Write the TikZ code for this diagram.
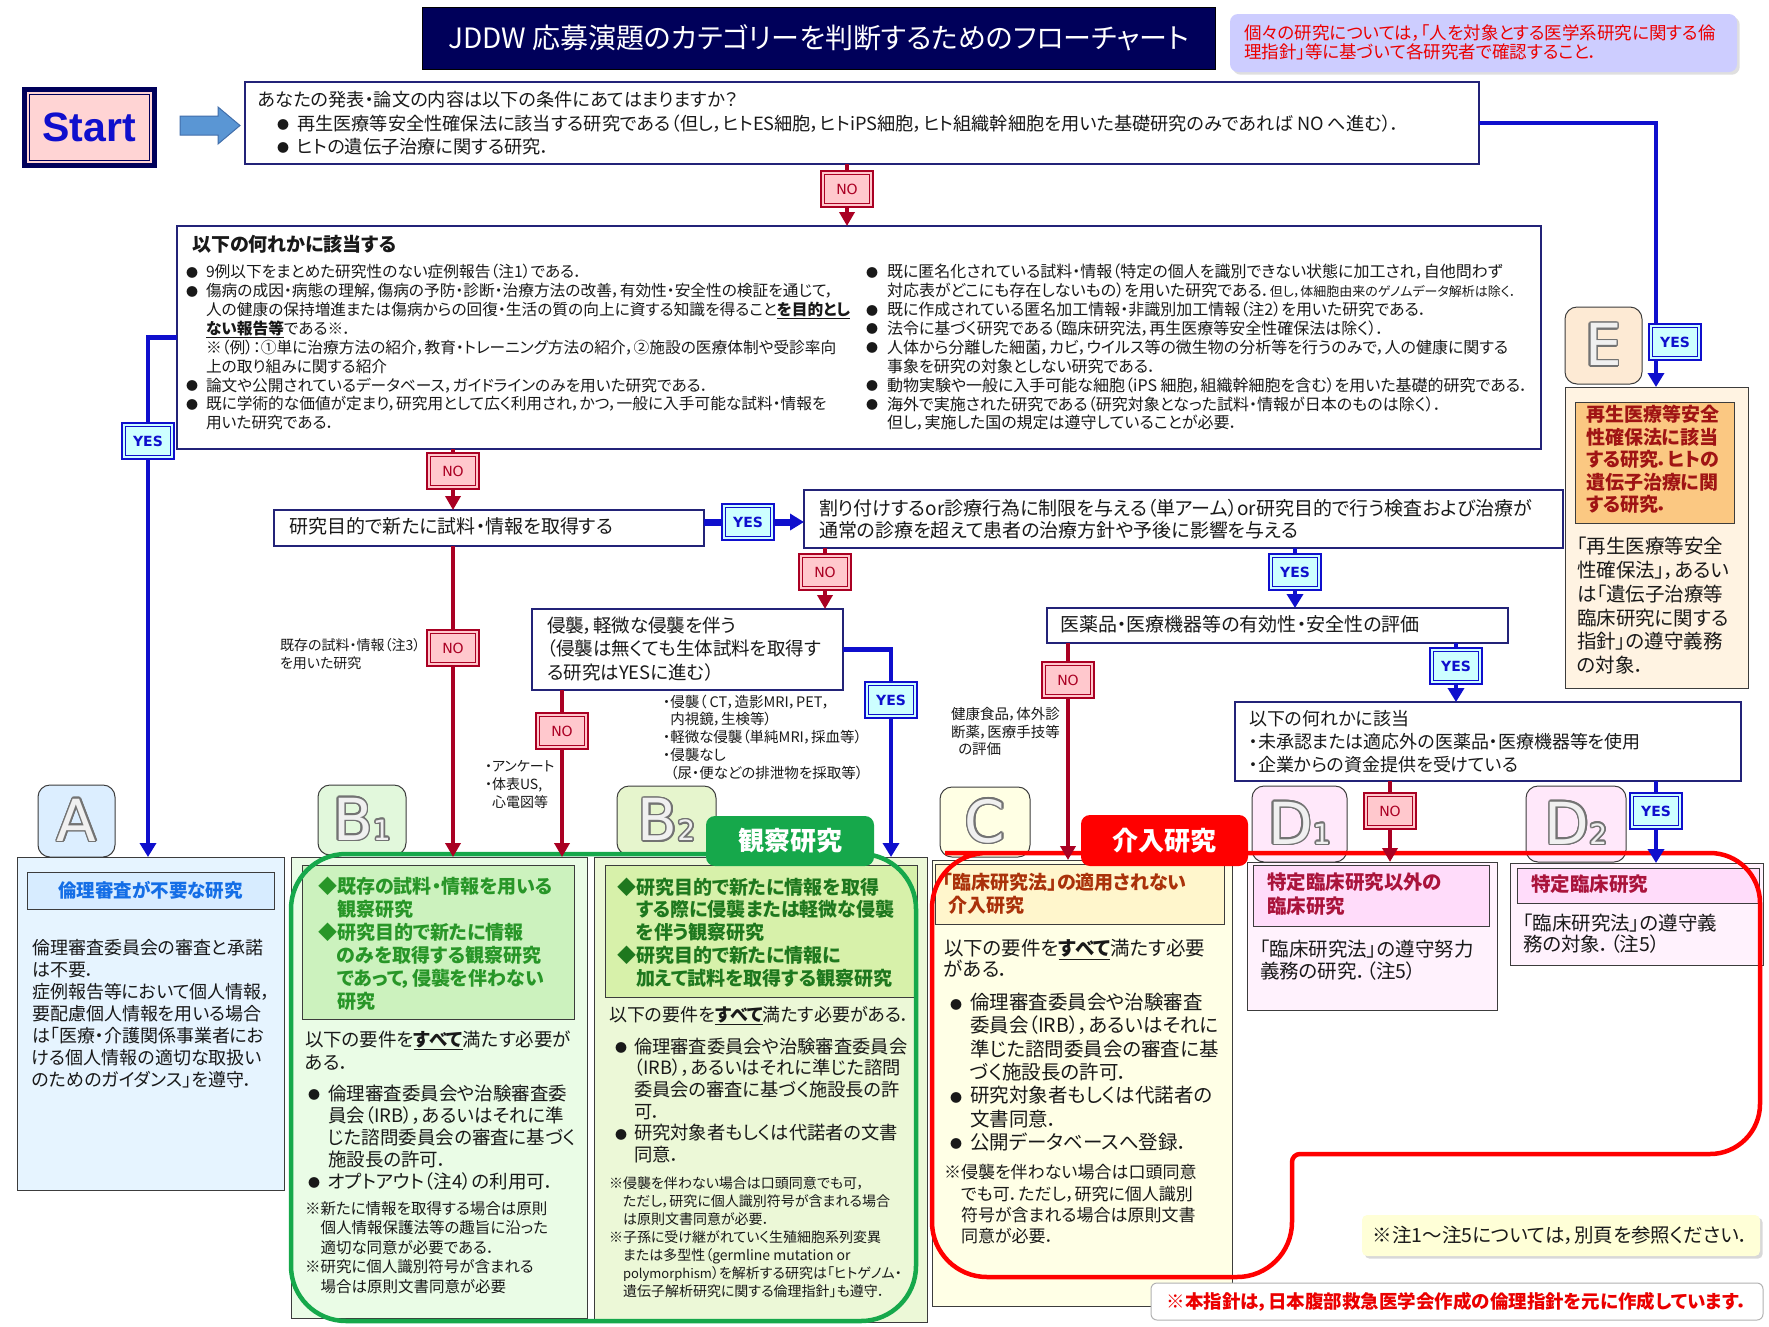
\documentclass[tikz,border=0pt]{standalone}
\usepackage{fontspec}
\setmainfont{Noto Sans CJK JP}[RawFeature=+palt]
\newfontfamily\latf{Liberation Sans}
\newfontfamily\dejaf{DejaVu Sans}
\usepackage{contour}
\contourlength{1.6pt}
\usetikzlibrary{arrows.meta,shadows}
\definecolor{nred}{RGB}{170,0,35}
\definecolor{npink}{RGB}{255,200,205}
\definecolor{nblue}{RGB}{15,15,205}
\definecolor{ycyan}{RGB}{205,255,255}
\definecolor{qnavy}{RGB}{35,35,120}
\definecolor{textc}{RGB}{25,25,25}
\definecolor{catline}{RGB}{60,60,60}
\definecolor{tnavy}{RGB}{0,0,90}
\definecolor{lav}{RGB}{205,205,255}
\definecolor{nred2}{RGB}{235,0,0}
\definecolor{startpink}{RGB}{255,212,212}
\definecolor{arrowfill}{RGB}{90,150,212}
\definecolor{arrowline}{RGB}{65,110,170}
\definecolor{kgreen}{RGB}{22,168,75}
\definecolor{kred}{RGB}{255,0,0}
\definecolor{fA}{RGB}{230,244,255}\definecolor{hA}{RGB}{215,236,255}\definecolor{tA}{RGB}{220,238,255}
\definecolor{fB1}{RGB}{234,252,230}\definecolor{hB1}{RGB}{204,242,190}\definecolor{tB1}{RGB}{226,248,220}
\definecolor{fB2}{RGB}{236,248,215}\definecolor{hB2}{RGB}{215,241,170}\definecolor{tB2}{RGB}{230,245,205}
\definecolor{fC}{RGB}{255,255,230}\definecolor{hC}{RGB}{255,246,204}\definecolor{tC}{RGB}{255,255,228}
\definecolor{fD}{RGB}{255,242,253}\definecolor{hD}{RGB}{255,220,250}\definecolor{tD}{RGB}{255,232,250}
\definecolor{fE}{RGB}{255,243,226}\definecolor{hE}{RGB}{251,200,130}\definecolor{tE}{RGB}{253,234,212}
\definecolor{cA}{RGB}{20,110,230}
\definecolor{cB1}{RGB}{40,150,40}
\definecolor{cB2}{RGB}{30,120,30}
\definecolor{cC}{RGB}{170,50,10}
\definecolor{cD}{RGB}{170,20,60}
\definecolor{cE}{RGB}{160,20,20}
\definecolor{noteY}{RGB}{255,255,215}
\newcommand\fs[2]{\fontsize{#1}{#2}\selectfont}
\newcommand\bul[1]{\makebox[#1pt][l]{\raisebox{0.5pt}{\fontsize{12}{12}\selectfont ●}}}
\newcommand\tabletter[2]{\contour{black!55}{\textcolor{black!6}{#1\fs{28}{28}#2}}}
\begin{document}
\begin{tikzpicture}[x=1pt,y=-1pt,
 every node/.style={inner sep=0pt, outer sep=0pt},
 txt/.style={anchor=north west, align=left, text=textc},
 qbox/.style={draw=qnavy, line width=1.3pt, fill=white, anchor=north west},
 catbox/.style={draw=catline, line width=1pt, anchor=north west},
 tabbox/.style={draw=catline, line width=1pt, rounded corners=12pt, anchor=north west},
 nolab/.style={draw=nred, line width=2.6pt, fill=npink, minimum width=52pt, minimum height=36pt, text=nred, font=\dejaf\fs{14}{14},
   path picture={\draw[nred, line width=0.8pt] ([shift={(3.4pt,-3.4pt)}]path picture bounding box.north west) rectangle ([shift={(-3.4pt,3.4pt)}]path picture bounding box.south east);}},
 yeslab/.style={draw=nblue, line width=2.6pt, fill=ycyan, minimum width=52pt, minimum height=36pt, text=nblue, font=\dejaf\bfseries\fs{14}{14},
   path picture={\draw[nblue, line width=0.8pt] ([shift={(3.4pt,-3.4pt)}]path picture bounding box.north west) rectangle ([shift={(-3.4pt,3.4pt)}]path picture bounding box.south east);}},
 rline/.style={draw=nred, line width=3.5pt},
 rarr/.style={rline, -{Triangle[length=14pt,width=15pt]}},
 bline/.style={draw=nblue, line width=4.5pt},
 barr/.style={bline, -{Triangle[length=14pt,width=16pt]}},
 lettxt/.style={font=\dejaf\fs{58}{58}},
]
\useasboundingbox (0,0) rectangle (1769,1326);
\fill[white] (0,0) rectangle (1769,1326);

% ---------- header ----------
\node[anchor=north west, fill=tnavy, draw=black, line width=1pt, minimum width=793pt, minimum height=62pt] (title) at (422,7) {};
\node[text=white, font=\fs{28}{28}] (titletxt) at (title) {JDDW 応募演題のカテゴリーを判断するためのフローチャート};
\node[anchor=north west, fill=lav, rounded corners=8pt, minimum width=507pt, minimum height=58pt, drop shadow={opacity=0.25}] (note) at (1230,14) {};
\node[txt, text=nred2, font=\fs{17.5}{19}] (notetxt) at (1244,24.25) {個々の研究については，「人を対象とする医学系研究に関する倫\\理指針」等に基づいて各研究者で確認すること．};

\node[anchor=north west, fill=startpink, draw=tnavy, line width=5pt, minimum width=130pt, minimum height=76pt,
  path picture={\draw[tnavy, line width=1pt] ([shift={(5pt,-5pt)}]path picture bounding box.north west) rectangle ([shift={(-5pt,5pt)}]path picture bounding box.south east);}] (start) at (24,89) {};
\node[text=nblue, font=\latf\bfseries\fs{41}{41}] (starttxt) at (start) {Start};
\draw[fill=arrowfill, draw=arrowline, line width=1pt] (180,116) -- (218,116) -- (218,107) -- (240,125.5) -- (218,144) -- (218,135) -- (180,135) -- cycle;

\node[qbox, minimum width=1234pt, minimum height=82pt] (top) at (245,82) {};
\node[txt, font=\fs{18.2}{23.5}] (topt) at (258,90.9) {あなたの発表・論文の内容は以下の条件にあてはまりますか？};
\node[txt, font=\fs{18.2}{23}] (topb) at (277,114.9) {\bul{20}再生医療等安全性確保法に該当する研究である（但し，ヒトES細胞，ヒトiPS細胞，ヒト組織幹細胞を用いた基礎研究のみであれば NO へ進む）．\\\bul{20}ヒトの遺伝子治療に関する研究．};

% ---------- big box ----------
\node[draw=qnavy, line width=1.5pt, fill=white, anchor=north west, minimum width=1364pt, minimum height=223pt] (big) at (177,226) {};
\node[txt, font=\bfseries\fs{19}{19}] (bigt) at (192,235.5) {以下の何れかに該当する};
\node[txt, font=\fs{15.7}{18.9}] (bigL) at (186,264.2) {\bul{20}9例以下をまとめた研究性のない症例報告（注1）である．\\\bul{20}傷病の成因・病態の理解，傷病の予防・診断・治療方法の改善，有効性・安全性の検証を通じて，\\\hspace*{20pt}人の健康の保持増進または傷病からの回復・生活の質の向上に資する知識を得ること\underline{\bfseries を目的とし}\\\hspace*{20pt}\underline{\bfseries ない報告等}である※．\\\hspace*{20pt}※（例）：①単に治療方法の紹介，教育・トレーニング方法の紹介，②施設の医療体制や受診率向\\\hspace*{20pt}上の取り組みに関する紹介\\\bul{20}論文や公開されているデータベース，ガイドラインのみを用いた研究である．\\\bul{20}既に学術的な価値が定まり，研究用として広く利用され，かつ，一般に入手可能な試料・情報を\\\hspace*{20pt}用いた研究である．};
\node[txt, font=\fs{16}{18.9}] (bigR) at (866,264) {\bul{21}既に匿名化されている試料・情報（特定の個人を識別できない状態に加工され，自他問わず\\\hspace*{21pt}対応表がどこにも存在しないもの）を用いた研究である．{\fs{13}{18.9}但し，体細胞由来のゲノムデータ解析は除く．}\\\bul{21}既に作成されている匿名加工情報・非識別加工情報（注2）を用いた研究である．\\\bul{21}法令に基づく研究である（臨床研究法，再生医療等安全性確保法は除く）．\\\bul{21}人体から分離した細菌，カビ，ウイルス等の微生物の分析等を行うのみで，人の健康に関する\\\hspace*{21pt}事象を研究の対象としない研究である．\\\bul{21}動物実験や一般に入手可能な細胞（iPS 細胞，組織幹細胞を含む）を用いた基礎的研究である．\\\bul{21}海外で実施された研究である（研究対象となった試料・情報が日本のものは除く）．\\\hspace*{21pt}但し，実施した国の規定は遵守していることが必要．};

% ---------- question boxes ----------
\node[qbox, minimum width=430pt, minimum height=36pt] (q2) at (274,510) {};
\node[txt, font=\fs{19}{22}] (q2t) at (289,517.5) {研究目的で新たに試料・情報を取得する};
\node[qbox, minimum width=759pt, minimum height=58pt] (q3) at (804,490) {};
\node[txt, font=\fs{19}{22}] (q3t) at (819,499.5) {割り付けするor診療行為に制限を与える（単アーム）or研究目的で行う検査および治療が\\通常の診療を超えて患者の治療方針や予後に影響を与える};
\node[qbox, minimum width=311pt, minimum height=81pt] (q4) at (532,609) {};
\node[txt, font=\fs{18.5}{23.5}] (q4t) at (547,616.75) {侵襲，軽微な侵襲を伴う\\（侵襲は無くても生体試料を取得す\\る研究はYESに進む）};
\node[qbox, minimum width=461pt, minimum height=35pt] (q5) at (1047,608) {};
\node[txt, font=\fs{19}{22}] (q5t) at (1060,615.5) {医薬品・医療機器等の有効性・安全性の評価};
\node[qbox, minimum width=506pt, minimum height=79pt] (q6) at (1235,702) {};
\node[txt, font=\fs{18}{23}] (q6t) at (1249,710) {以下の何れかに該当\\・未承認または適応外の医薬品・医療機器等を使用\\・企業からの資金提供を受けている};

% small labels
\node[txt, font=\fs{14}{18}] (lbl1) at (280,639) {既存の試料・情報（注3）\\を用いた研究};
\node[txt, font=\fs{14}{18}] (lbl2) at (485,760) {・アンケート\\・体表US,\\\phantom{・}心電図等};
\node[txt, font=\fs{14.5}{17.75}] (lbl3) at (663,694.75) {・侵襲（ CT，造影MRI，PET，\\\phantom{・}内視鏡，生検等）\\・軽微な侵襲（単純MRI，採血等）\\・侵襲なし\\\phantom{・}（尿・便などの排泄物を採取等）};
\node[txt, font=\fs{14.5}{17.5}] (lbl4) at (951,707.75) {健康食品，体外診\\断薬，医療手技等\\\phantom{・}の評価};

% ---------- letter tabs ----------
\node[tabbox, fill=tA, minimum width=77pt, minimum height=72pt] (tabA) at (38,785) {};
\node[tabbox, fill=tB1, minimum width=88pt, minimum height=70pt] (tabB1) at (318,785) {};
\node[tabbox, fill=tB2, minimum width=99pt, minimum height=69pt] (tabB2) at (617,786) {};
\node[tabbox, fill=tC, minimum width=90pt, minimum height=70pt] (tabC) at (940,787) {};
\node[tabbox, fill=tD, minimum width=95pt, minimum height=76pt] (tabD1) at (1252,786) {};
\node[tabbox, fill=tD, minimum width=100pt, minimum height=76pt] (tabD2) at (1526,786) {};
\node[tabbox, fill=tE, minimum width=77pt, minimum height=77pt] (tabE) at (1565,307) {};
\node[lettxt] (letA) at (tabA) {\tabletter{A}{}};
\node[lettxt] (letB1) at (tabB1) {\tabletter{B}{1}};
\node[lettxt] (letB2) at (tabB2) {\tabletter{B}{2}};
\node[lettxt] (letC) at (tabC) {\tabletter{C}{}};
\node[lettxt] (letD1) at (tabD1) {\tabletter{D}{1}};
\node[lettxt] (letD2) at (tabD2) {\tabletter{D}{2}};
\node[lettxt] (letE) at (tabE) {\tabletter{E}{}};

% ---------- category boxes ----------
\node[catbox, fill=fA, minimum width=267pt, minimum height=333pt] (boxA) at (17,857) {};
\node[catbox, fill=hA, minimum width=247pt, minimum height=37pt] (hdrA) at (27,872) {};
\node[text=cA, font=\bfseries\fs{18.5}{18.5}] (hAt) at (hdrA) {倫理審査が不要な研究};
\node[txt, font=\fs{18}{22}] (bAt) at (32,939) {倫理審査委員会の審査と承諾\\は不要．\\症例報告等において個人情報，\\要配慮個人情報を用いる場合\\は「医療・介護関係事業者にお\\ける個人情報の適切な取扱い\\のためのガイダンス」を遵守．};

\node[catbox, fill=fB1, minimum width=296pt, minimum height=461pt] (boxB1) at (291,857) {};
\node[catbox, fill=hB1, minimum width=272pt, minimum height=154pt] (hdrB1) at (302,865) {};
\node[txt, text=cB1, font=\bfseries\fs{19}{23}] (hB1t) at (318,876.5) {◆既存の試料・情報を用いる\\\phantom{◆}観察研究\\◆研究目的で新たに情報\\\phantom{◆}のみを取得する観察研究\\\phantom{◆}であって，侵襲を伴わない\\\phantom{◆}研究};
\node[txt, font=\fs{18.5}{23}] (bB1a) at (305,1030.75) {以下の要件を\underline{\bfseries すべて}満たす必要が\\ある．};
\node[txt, font=\fs{18.5}{22}] (bB1b) at (308,1084.75) {\bul{20}倫理審査委員会や治験審査委\\\hspace*{20pt}員会（IRB），あるいはそれに準\\\hspace*{20pt}じた諮問委員会の審査に基づく\\\hspace*{20pt}施設長の許可．\\\bul{20}オプトアウト（注4）の利用可．};
\node[txt, font=\fs{15.5}{19.5}] (bB1c) at (305,1201.25) {※新たに情報を取得する場合は原則\\\phantom{※}個人情報保護法等の趣旨に沿った\\\phantom{※}適切な同意が必要である．\\※研究に個人識別符号が含まれる\\\phantom{※}場合は原則文書同意が必要};

\node[catbox, fill=fB2, minimum width=333pt, minimum height=465pt] (boxB2) at (594,857) {};
\node[catbox, fill=hB2, minimum width=312pt, minimum height=132pt] (hdrB2) at (605,865) {};
\node[txt, text=cB2, font=\bfseries\fs{19}{22.75}] (hB2t) at (617,877.5) {◆研究目的で新たに情報を取得\\\phantom{◆}する際に侵襲または軽微な侵襲\\\phantom{◆}を伴う観察研究\\◆研究目的で新たに情報に\\\phantom{◆}加えて試料を取得する観察研究};
\node[txt, font=\fs{18}{22}] (bB2a) at (609,1006) {以下の要件を\underline{\bfseries すべて}満たす必要がある．};
\node[txt, font=\fs{18.3}{21.6}] (bB2b) at (615,1037.85) {\bul{19}倫理審査委員会や治験審査委員会\\\hspace*{19pt}（IRB），あるいはそれに準じた諮問\\\hspace*{19pt}委員会の審査に基づく施設長の許\\\hspace*{19pt}可．\\\bul{19}研究対象者もしくは代諾者の文書\\\hspace*{19pt}同意．};
\node[txt, font=\fs{14}{18}] (bB2c) at (609,1177) {※侵襲を伴わない場合は口頭同意でも可，\\\phantom{※}ただし，研究に個人識別符号が含まれる場合\\\phantom{※}は原則文書同意が必要．\\※子孫に受け継がれていく生殖細胞系列変異\\\phantom{※}または多型性（germline mutation or\\\phantom{※}{\fs{13}{18}polymorphism}）を解析する研究は「ヒトゲノム・\\\phantom{※}遺伝子解析研究に関する倫理指針」も遵守．};

\node[catbox, fill=fC, minimum width=300pt, minimum height=446pt] (boxC) at (932,860) {};
\node[catbox, fill=hC, minimum width=289pt, minimum height=60pt] (hdrC) at (935,864) {};
\node[txt, text=cC, font=\bfseries\fs{19}{23}] (hCt) at (943,873.5) {「臨床研究法」の適用されない\\\hspace*{5pt}介入研究};
\node[txt, font=\fs{19.5}{21}] (bCa) at (944,939.25) {以下の要件を\underline{\bfseries すべて}満たす必要\\がある．};
\node[txt, font=\fs{19.5}{23.3}] (bCb) at (950,993.25) {\bul{20}倫理審査委員会や治験審査\\\hspace*{20pt}委員会（IRB），あるいはそれに\\\hspace*{20pt}準じた諮問委員会の審査に基\\\hspace*{20pt}づく施設長の許可．\\\bul{20}研究対象者もしくは代諾者の\\\hspace*{20pt}文書同意．\\\bul{20}公開データベースへ登録．};
\node[txt, font=\fs{17}{21.3}] (bCc) at (944,1164.5) {※侵襲を伴わない場合は口頭同意\\\phantom{※}でも可．ただし，研究に個人識別\\\phantom{※}符号が含まれる場合は原則文書\\\phantom{※}同意が必要．};

\node[catbox, fill=fD, minimum width=250pt, minimum height=148pt] (boxD1) at (1247,862) {};
\node[catbox, fill=hD, minimum width=236pt, minimum height=61pt] (hdrD1) at (1253,865) {};
\node[txt, text=cD, font=\bfseries\fs{19.5}{24}] (hD1t) at (1267,873.25) {特定臨床研究以外の\\臨床研究};
\node[txt, font=\fs{19.5}{22}] (bD1) at (1260,940.25) {「臨床研究法」の遵守努力\\義務の研究．（注5）};

\node[catbox, fill=fD, minimum width=253pt, minimum height=102pt] (boxD2) at (1510,863) {};
\node[catbox, fill=hD, minimum width=242pt, minimum height=35pt] (hdrD2) at (1517,868) {};
\node[txt, text=cD, font=\bfseries\fs{19.5}{24}] (hD2t) at (1531,875.25) {特定臨床研究};
\node[txt, font=\fs{19.5}{21}] (bD2) at (1523,914.25) {「臨床研究法」の遵守義\\務の対象．（注5）};

\node[catbox, fill=fE, minimum width=183pt, minimum height=301pt] (boxE) at (1565,387) {};
\node[catbox, fill=hE, minimum width=159pt, minimum height=121pt] (hdrE) at (1575,402) {};
\node[txt, text=cE, font=\bfseries\fs{19}{22.5}] (hEt) at (1586,405.5) {再生医療等安全\\性確保法に該当\\する研究．ヒトの\\遺伝子治療に関\\する研究．};
\node[txt, font=\fs{19.5}{23.8}] (bEt) at (1577,537.25) {「再生医療等安全\\性確保法」，あるい\\は「遺伝子治療等\\臨床研究に関する\\指針」の遵守義務\\の対象．};

% ---------- group outlines ----------
\draw[kgreen, line width=4.5pt, rounded corners=55pt] (600,854) -- (916,854) -- (916,1321) -- (291,1321) -- (291,854) -- cycle;
\draw[kred, line width=4.5pt, rounded corners=50pt] (1000,853) -- (1760,853) -- (1760,1154) [rounded corners=8pt] -- (1292,1154) [rounded corners=55pt] -- (1292,1277) -- (932,1277) -- (932,853) -- cycle;
\node[anchor=north west, fill=kgreen, rounded corners=9pt, minimum width=168pt, minimum height=50pt] (kantab) at (706,816) {};
\node[text=white, font=\bfseries\fs{26}{26}] (kantxt) at (kantab) {観察研究};
\node[anchor=north west, fill=kred, rounded corners=9pt, minimum width=167pt, minimum height=51pt] (kaitab) at (1081,815) {};
\node[text=white, font=\bfseries\fs{26}{26}] (kaitxt) at (kaitab) {介入研究};

% ---------- notes ----------
\node[anchor=north west, fill=noteY, rounded corners=5pt, minimum width=398pt, minimum height=41pt, drop shadow={opacity=0.3}] (note1) at (1362,1215) {};
\node[text=textc, font=\fs{19.5}{19.5}] (n1t) at (note1) {※注1～注5については，別頁を参照ください．};
\node[anchor=north west, fill=white, draw=black!30, line width=1pt, rounded corners=6pt, minimum width=612pt, minimum height=37pt] (note2) at (1151,1283) {};
\node[text=nred2, font=\bfseries\fs{18.5}{18.5}] (n2t) at (note2) {※本指針は，日本腹部救急医学会作成の倫理指針を元に作成しています．};

% ---------- decision labels ----------
\node[nolab] (no1) at (847,189) {NO};
\node[yeslab] (yes1) at (1675,342) {YES};
\node[yeslab] (yes2) at (148,441) {YES};
\node[nolab] (no2) at (453,471) {NO};
\node[yeslab] (yes3) at (748,522) {YES};
\node[nolab] (no3) at (453,648) {NO};
\node[nolab] (no4) at (825,572) {NO};
\node[yeslab] (yes4) at (1295,572) {YES};
\node[yeslab] (yes5) at (891,700) {YES};
\node[nolab] (no5) at (562,731) {NO};
\node[nolab] (no6) at (1068,680) {NO};
\node[yeslab] (yes6) at (1456,666) {YES};
\node[nolab] (no7) at (1390,811) {NO};
\node[yeslab] (yes7) at (1656,811) {YES};
\coordinate (ecol) at (1656,0);

% ---------- connectors ----------
\draw[rline] (top.south -| no1) -- (no1.north);
\draw[rarr] (no1.south) -- (big.north -| no1);
\draw[bline] (top.east) -| (yes1.north -| ecol);
\draw[barr] (yes1.south -| ecol) -- (boxE.north -| ecol);
\draw[bline] (big.west) -| (yes2.north);
\draw[barr] (yes2.south) -- (boxA.north -| yes2);
\draw[rline] (big.south -| no2) -- (no2.north);
\draw[rarr] (no2.south) -- (q2.north -| no2);
\draw[bline, line width=7pt] (q2.east |- yes3) -- (yes3.west);
\draw[barr, line width=7pt] (yes3.east) -- (q3.west |- yes3);
\draw[rline] (q2.south -| no3) -- (no3.north);
\draw[rarr] (no3.south) -- (boxB1.north -| no3);
\draw[rline] (q3.south -| no4) -- (no4.north);
\draw[rarr] (no4.south) -- (q4.north -| no4);
\draw[bline] (q3.south -| yes4) -- (yes4.north);
\draw[barr] (yes4.south) -- (q5.north -| yes4);
\draw[bline] (q4.east) -| (yes5.north);
\draw[barr] (yes5.south) -- (boxB2.north -| yes5);
\draw[rline] (q4.south -| no5) -- (no5.north);
\draw[rarr] (no5.south) -- (boxB1.north -| no5);
\draw[rline] (q5.south -| no6) -- (no6.north);
\draw[rarr] (no6.south) -- (boxC.north -| no6);
\draw[bline] (q5.south -| yes6) -- (yes6.north);
\draw[barr] (yes6.south) -- (q6.north -| yes6);
\draw[rline] (q6.south -| no7) -- (no7.north);
\draw[rarr] (no7.south) -- (boxD1.north -| no7);
\draw[bline] (q6.south -| yes7) -- (yes7.north);
\draw[barr] (yes7.south) -- (boxD2.north -| yes7);
\end{tikzpicture}
\end{document}
